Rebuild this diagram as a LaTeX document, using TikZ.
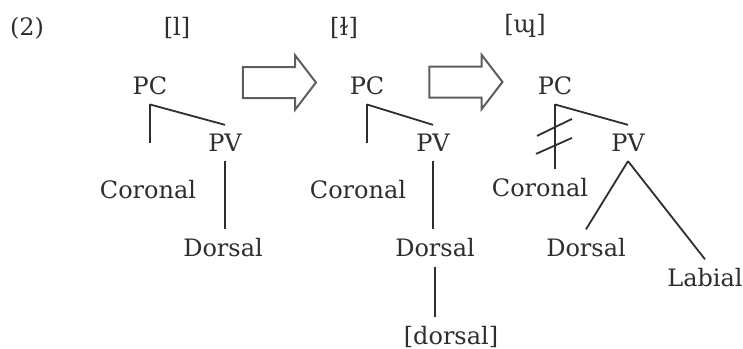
\documentclass[tikz,border=0pt]{standalone}
\usepackage{fontspec}
\setmainfont{DejaVu Serif}
\usetikzlibrary{shapes.arrows,calc}
\definecolor{inkGray}{HTML}{2E2E2E}
\definecolor{arrGray}{HTML}{5E5E5E}

\begin{document}
\begin{tikzpicture}[x=0.5pt,y=-0.5pt,
  feat/.style={inner sep=4.5pt,text=inkGray,font=\fontsize{12}{14}\selectfont},
  edge/.style={draw=inkGray,line width=0.9pt},
  bigarr/.style={single arrow,draw=arrGray,line width=1pt,inner xsep=0pt,inner ysep=7.25pt,
    minimum height=36.5pt,single arrow head extend=5.75pt,single arrow tip angle=105,
    single arrow head indent=0pt}
]
\useasboundingbox (0,0) rectangle (743,348);
% labels on top
\node[feat] (ex) at (27,28) {(2)};
\node[feat] (s1) at (177,28) {[l]};
\node[feat] (s2) at (344,28) {[ɫ]};
\node[feat] (s3) at (525,26) {[ɰ]};
% first tree
\node[feat] (pc1) at (150,86) {PC};
\node[feat] (pv1) at (225,143) {PV};
\node[feat] (cor1) at (148,190) {Coronal};
\node[feat] (dor1) at (223,248) {Dorsal};
\draw[edge] (pc1.south) -- (pc1.south |- pv1.center);
\draw[edge] (pc1.south) -- (pv1.north);
\draw[edge] (pv1.south) -- (pv1.south |- dor1.north);
% arrows
\node[bigarr] (ar1) at (273.5,82.5) {};
\node[bigarr] (ar2) at (460,82) {};
% second tree
\node[feat] (pc2) at (367,86) {PC};
\node[feat] (pv2) at (433,143) {PV};
\node[feat] (cor2) at (358,190) {Coronal};
\node[feat] (dor2) at (435,248) {Dorsal};
\node[feat] (fd2) at (451,337) {[dorsal]};
\draw[edge] (pc2.south) -- (pc2.south |- pv2.center);
\draw[edge] (pc2.south) -- (pv2.north);
\draw[edge] (pv2.south) -- (pv2.south |- dor2.north);
\draw[edge] (dor2.south) -- (dor2.south |- fd2.north);
% third tree
\node[feat] (pc3) at (555,86) {PC};
\node[feat] (pv3) at (628,143) {PV};
\node[feat] (cor3) at (540,188) {Coronal};
\node[feat] (dor3) at (586,248) {Dorsal};
\node[feat] (lab3) at (705,278) {Labial};
\draw[edge] (pc3.south) -- (pc3.south |- cor3.north) coordinate (c3);
\draw[edge] (pc3.south) -- (pv3.north);
\draw[edge] (pv3.south) -- (dor3.north);
\draw[edge] (pv3.south) -- (lab3.north);
% delinking marks
\coordinate (m3) at ($(pc3.south)!0.5!(c3)$);
\draw[edge] ([shift={(-18,-1)}]m3) -- ([shift={(17,-18)}]m3);
\draw[edge] ([shift={(-19,17)}]m3) -- ([shift={(17,1)}]m3);
\end{tikzpicture}
\end{document}
